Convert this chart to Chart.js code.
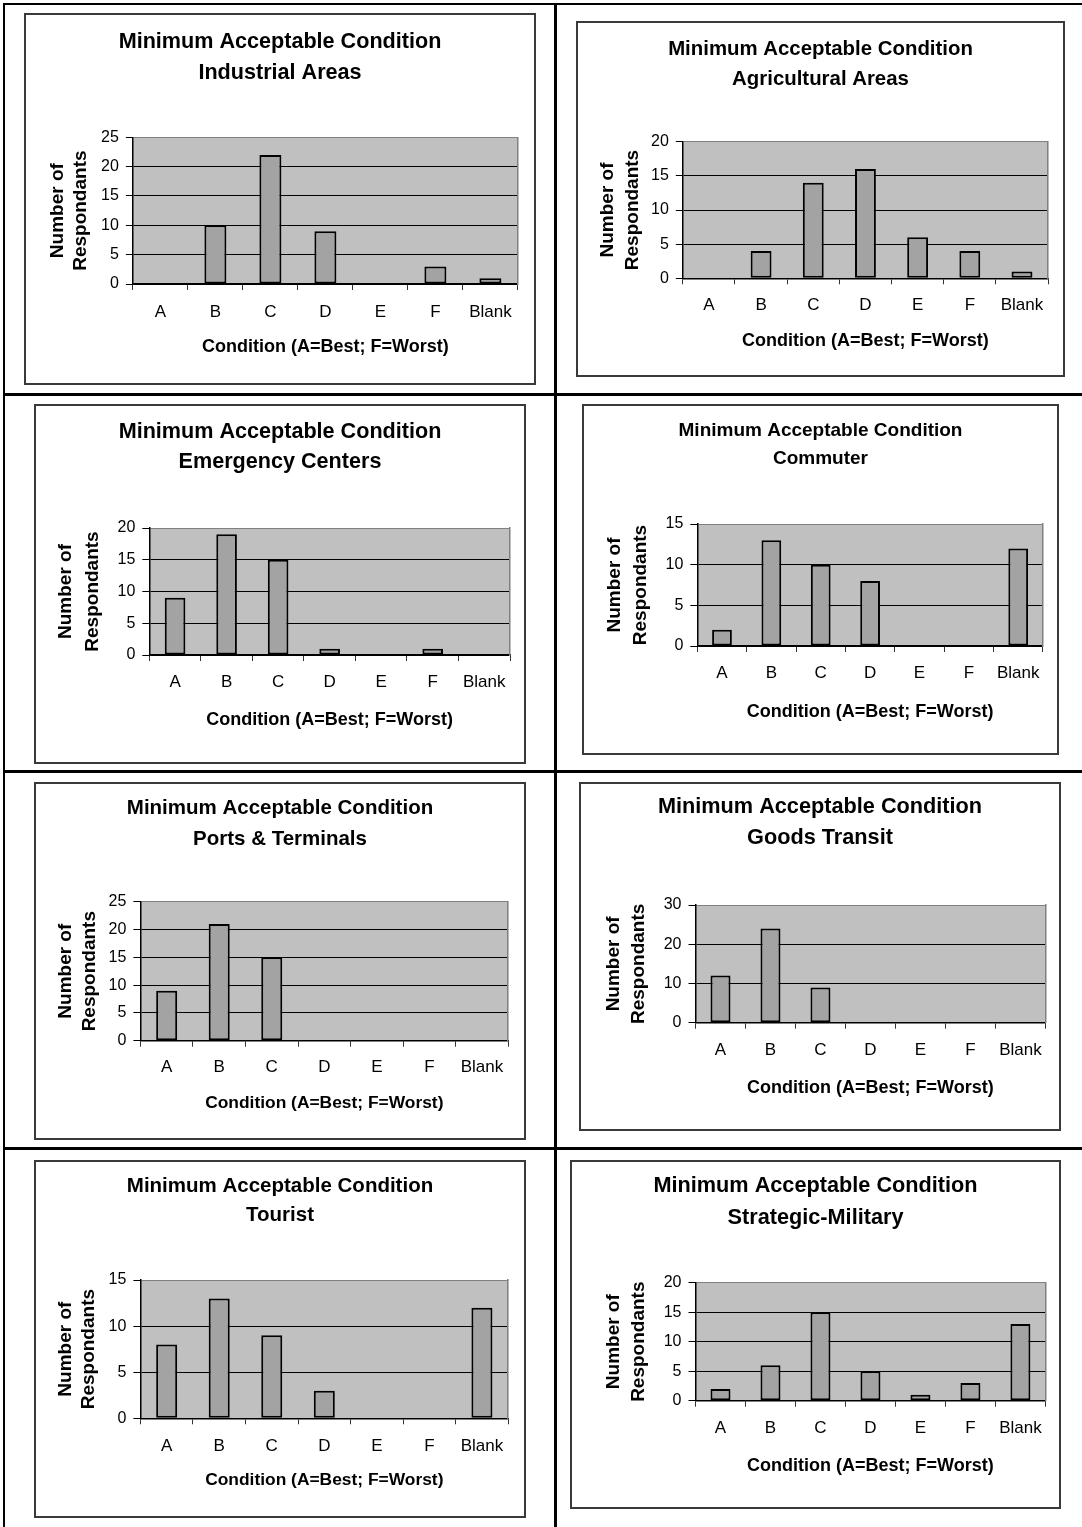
<!DOCTYPE html>
<html><head><meta charset="utf-8">
<script src="https://cdn.jsdelivr.net/npm/chart.js@4.4.1/dist/chart.umd.min.js"></script>
<style>
html,body{margin:0;padding:0;background:#fff;}
body{width:1082px;height:1527px;position:relative;overflow:hidden;}
.ln{position:absolute;background:#000;}
.wrap{position:absolute;}
.wrap canvas{position:absolute;left:0;top:0;}
.frame{position:absolute;left:0;top:0;right:0;bottom:0;box-sizing:border-box;border:2px solid #3a3a3a;pointer-events:none;}
</style></head><body>
<div class="ln" style="left:3px;top:3px;width:1079px;height:2px"></div>
<div class="ln" style="left:3px;top:3px;width:2px;height:1524px"></div>
<div class="ln" style="left:554px;top:3px;width:3px;height:1524px"></div>
<div class="ln" style="left:3px;top:393px;width:1079px;height:3px"></div>
<div class="ln" style="left:3px;top:770px;width:1079px;height:3px"></div>
<div class="ln" style="left:3px;top:1147px;width:1079px;height:3px"></div>
<script>
// ---- data ----
const categories = ['A', 'B', 'C', 'D', 'E', 'F', 'Blank'];
const titleMain = 'Minimum Acceptable Condition';
const chartNames = ['Industrial Areas', 'Agricultural Areas', 'Emergency Centers', 'Commuter',
                    'Ports & Terminals', 'Goods Transit', 'Tourist', 'Strategic-Military'];
const industrialAreas   = [0, 10, 22, 9, 0, 3, 1];
const agriculturalAreas = [0, 4, 14, 16, 6, 4, 1];
const emergencyCenters  = [9, 19, 15, 1, 0, 1, 0];
const commuter          = [2, 13, 10, 8, 0, 0, 12];
const portsTerminals    = [9, 21, 15, 0, 0, 0, 0];
const goodsTransit      = [12, 24, 9, 0, 0, 0, 0];
const tourist           = [8, 13, 9, 3, 0, 0, 12];
const strategicMilitary = [2, 6, 15, 5, 1, 3, 13];
const seriesList = [industrialAreas, agriculturalAreas, emergencyCenters, commuter,
                    portsTerminals, goodsTransit, tourist, strategicMilitary];
const yMax  = [25, 20, 20, 15, 25, 30, 15, 20];
const yStep = [5, 5, 5, 5, 5, 10, 5, 5];
const xAxisTitle = 'Condition (A=Best; F=Worst)';
const yAxisTitle = ['Number of', 'Respondants'];

// ---- layout (page coordinates) ----
const layouts = [
 {box:[23.6,13.3,535.7,385],   plot:[132.9,517.9,137.3,284],   t1:41.7,  ts:31.6, tf:21.6, xTick:312.3,  xTitle:346.7,  xf:18,   yTitle:57.9,  ys:23},
 {box:[575.6,21.3,1064.7,377.3],plot:[682.8,1048.1,141.7,278.3],t1:49.2,  ts:30,   tf:20.4, xTick:305,    xTitle:340.7,  xf:18,   yTitle:608.1, ys:25},
 {box:[33.9,404.3,526,764.3],  plot:[149.3,510,528,655],       t1:431.7, ts:30.6, tf:21.6, xTick:682.3,  xTitle:720,    xf:18,   yTitle:66,    ys:27},
 {box:[581.5,404.3,1059.2,755],plot:[697.3,1042.9,524,646],    t1:430.5, ts:28.7, tf:19,   xTick:673.3,  xTitle:711.7,  xf:18,   yTitle:614.3, ys:26},
 {box:[33.9,782,525.7,1140],   plot:[140.4,508.2,901.7,1040.7],t1:808.3, ts:31.2, tf:20.5, xTick:1067.3, xTitle:1103.3, xf:17.4, yTitle:66,    ys:24},
 {box:[579,781.7,1061.3,1130.7],plot:[695.5,1045.4,905,1022.7],t1:807,   ts:31,   tf:21.7, xTick:1050.7, xTitle:1088.3, xf:18,   yTitle:613.3, ys:25},
 {box:[33.9,1160,525.7,1517.7],plot:[140.4,508.2,1280,1418.3], t1:1186.2,ts:29,   tf:20.5, xTick:1446,   xTitle:1480,   xf:17.4, yTitle:66,    ys:23},
 {box:[570.4,1160,1061.3,1509],plot:[695.5,1045.4,1282.7,1400.7],t1:1186.2,ts:32, tf:21.7, xTick:1428.3, xTitle:1466,   xf:18,   yTitle:613.3, ys:25}
];

const FAMILY = "'Liberation Sans', Arial, Helvetica, sans-serif";
Chart.defaults.font.family = FAMILY;
Chart.defaults.color = '#000';

const plotBg = {
  id: 'plotBg',
  beforeDraw(chart) {
    const a = chart.chartArea;
    const ctx = chart.ctx;
    ctx.save();
    ctx.fillStyle = '#c0c0c0';
    ctx.fillRect(a.left, a.top, a.right - a.left, a.bottom - a.top);
    ctx.restore();
  }
};

layouts.forEach((L, i) => {
  const bx = Math.round(L.box[0]), by = Math.round(L.box[1]);
  const bw = Math.round(L.box[2]) - bx, bh = Math.round(L.box[3]) - by;
  const pl = L.plot[0] - bx, pr = L.plot[1] - bx, pt = L.plot[2] - by, pb = L.plot[3] - by;

  const wrap = document.createElement('div');
  wrap.className = 'wrap';
  wrap.style.left = bx + 'px'; wrap.style.top = by + 'px';
  wrap.style.width = bw + 'px'; wrap.style.height = bh + 'px';
  const cv = document.createElement('canvas');
  cv.width = bw; cv.height = bh;
  cv.style.width = bw + 'px'; cv.style.height = bh + 'px';
  wrap.appendChild(cv);
  const fr = document.createElement('div'); fr.className = 'frame';
  wrap.appendChild(fr);
  document.body.appendChild(wrap);

  const titlePadTop = (L.t1 - by) - L.ts / 2;
  const titlePadBottom = pt - titlePadTop - 2 * L.ts;
  const xTickFont = 17, xTickLen = 6;
  const xTickPad = (L.xTick - by) - pb - xTickLen - xTickFont * 1.2 / 2;
  const xTitlePadBottom = (by + bh - L.xTitle) - L.xf * 1.2 / 2;
  const yTitlePadTop = (L.yTitle - bx) - L.ys / 2;
  const max = yMax[i];

  new Chart(cv, {
    type: 'bar',
    data: {
      labels: categories,
      datasets: [{
        data: seriesList[i],
        backgroundColor: '#a3a3a3',
        borderColor: '#000',
        borderWidth: 2,
        borderSkipped: false,
        barPercentage: 0.4,
        categoryPercentage: 1.0
      }]
    },
    options: {
      responsive: false,
      animation: false,
      devicePixelRatio: 1,
      layout: { padding: 0 },
      plugins: {
        legend: { display: false },
        tooltip: { enabled: false },
        title: {
          display: true,
          text: [titleMain, chartNames[i]],
          color: '#000',
          font: { family: FAMILY, size: L.tf, weight: 'bold', lineHeight: L.ts + 'px' },
          padding: { top: titlePadTop, bottom: titlePadBottom }
        }
      },
      scales: {
        x: {
          offset: true,
          grid: { offset: true, drawOnChartArea: false, drawTicks: true, tickLength: xTickLen, tickColor: '#333', lineWidth: 1 },
          border: { display: true, color: '#000', width: 1.5 },
          ticks: { font: { size: xTickFont }, color: '#000', padding: xTickPad, maxRotation: 0, autoSkip: false },
          title: { display: true, text: xAxisTitle, color: '#000',
                   font: { size: L.xf, weight: 'bold' }, padding: { top: 0, bottom: xTitlePadBottom } },
          afterFit(s) { s.height = bh - pb; }
        },
        y: {
          min: 0, max: max,
          ticks: { stepSize: yStep[i], font: { size: 16 }, color: '#000', padding: 7 },
          grid: { drawTicks: true, tickLength: 7, tickColor: '#000', lineWidth: 1,
                  color: c => (c.tick && c.tick.value === max) ? '#808080' : '#000' },
          border: { display: true, color: '#000', width: 1.5 },
          title: { display: true, text: yAxisTitle, color: '#000',
                   font: { size: 19, weight: 'bold', lineHeight: L.ys + 'px' }, padding: { top: yTitlePadTop, bottom: 0 } },
          afterFit(s) { s.width = pl; }
        },
        yRight: {
          type: 'linear', position: 'right', display: true,
          grid: { drawOnChartArea: false, drawTicks: false },
          ticks: { display: false },
          border: { display: true, color: '#808080', width: 1.5 },
          afterFit(s) { s.width = bw - pr; }
        }
      }
    },
    plugins: [plotBg]
  });
});
</script>
</body></html>
